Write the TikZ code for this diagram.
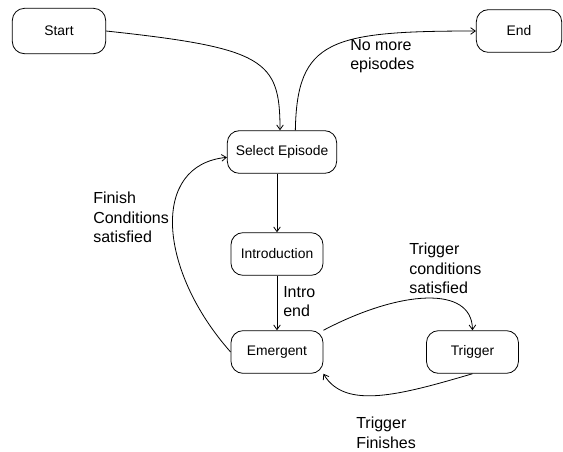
\documentclass[tikz,border=0pt]{standalone}
\usepackage{fontspec}
\setmainfont{Liberation Sans}
\usetikzlibrary{arrows.meta, positioning}

\begin{document}
\begin{tikzpicture}[x=0.75pt, y=-0.75pt, >={Straight Barb[length=3.5pt, width=5pt]},
  state/.style={draw, rounded corners=9pt, minimum width=69pt, minimum height=32pt, line width=0.6pt, font=\fontsize{10.4}{12}\selectfont},
  lbl/.style={align=left, inner sep=0pt, anchor=north west, font=\fontsize{12}{14.6}\selectfont}]

  \useasboundingbox (0,0) rectangle (563,451);

  % States
  \node (start) [state, minimum width=70pt, minimum height=34pt] at (59,31) {Start};
  \node (end) [state, minimum width=64pt] at (519,31) {End};
  \node (selep) [state, minimum width=82pt] at (282,152) {Select Episode};
  \node (intro) [state] at (277,254) {Introduction};
  \node (emergent) [state] at (277,352) {Emergent};
  \node (trigger) [state, node distance=77pt, right=of emergent] {Trigger};

  % Transitions
  \draw[->, line width=0.6pt] (start.east) .. controls (265,48) and (280,60) .. ([xshift=-1.5pt]selep.north);
  \draw[->, line width=0.6pt] ([xshift=10pt]selep.north) .. controls (297,40) and (330,31) .. (end.west);
  \draw[->, line width=0.6pt] (selep.south -| intro.north) -- (intro.north);
  \draw[->, line width=0.6pt] (intro) -- (emergent);
  \draw[->, line width=0.6pt] (emergent.west) .. controls (158,270) and (150,165) .. ([yshift=-4pt]selep.west);
  \draw[->, line width=0.6pt] (emergent.north east) .. controls (400,290) and (472,285) .. (trigger.north);
  \draw[->, line width=0.6pt] (trigger.south) .. controls (400,395) and (345,410) .. (emergent.south east);

  % Labels
  \node (nomorelbl) [lbl] at (350,39) {No more\\episodes};
  \node (finishlbl) [lbl] at (93,192) {Finish\\Conditions\\satisfied};
  \node (introlbl) [lbl] at (283,286) {Intro\\end};
  \node (triglbl) [lbl] at (409,243) {Trigger\\conditions\\satisfied};
  \node (finisheslbl) [lbl] at (356,417) {Trigger\\Finishes};

\end{tikzpicture}
\end{document}
